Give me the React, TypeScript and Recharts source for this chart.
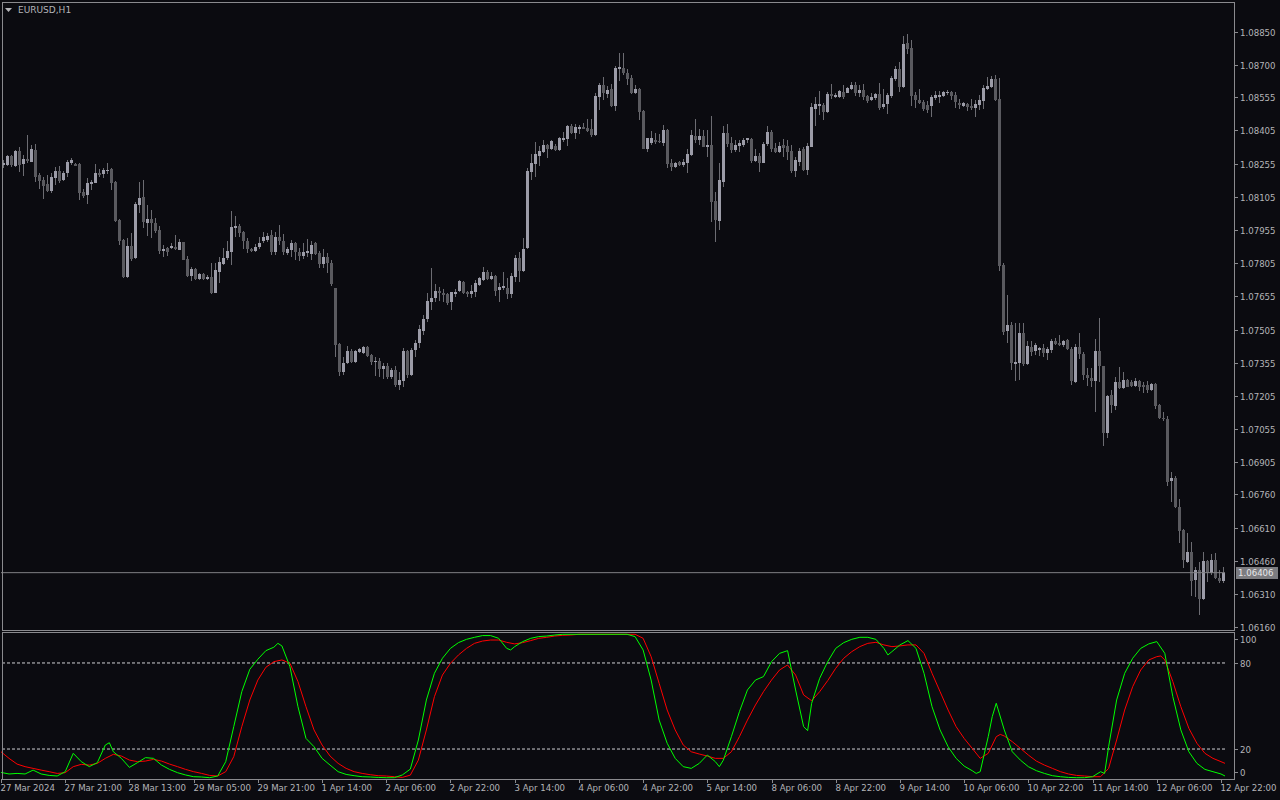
import React from "react";
import { ComposedChart, Bar, Line, XAxis, YAxis, ReferenceLine } from "recharts";

// EURUSD H1 candles, prices in points (1e-5)
const openPts = [
  108247, 108250, 108289, 108244, 108312, 108255, 108276, 108264, 108317, 108205,
  108181, 108163, 108131, 108192, 108222, 108181, 108214, 108258, 108255, 108253,
  108128, 108115, 108164, 108169, 108214, 108207, 108223, 108231, 108173, 108000,
  107910, 107742, 107883, 107827, 108069, 108104, 107988, 108005, 107987, 107955,
  107861, 107874, 107874, 107878, 107866, 107901, 107824, 107748, 107777, 107733,
  107756, 107735, 107744, 107672, 107767, 107803, 107827, 107857, 107964, 107973,
  107946, 107904, 107869, 107862, 107879, 107904, 107910, 107933, 107856, 107922,
  107904, 107853, 107865, 107897, 107857, 107839, 107850, 107847, 107894, 107853,
  107802, 107833, 107808, 107693, 107440, 107313, 107354, 107408, 107360, 107402,
  107398, 107428, 107390, 107360, 107363, 107327, 107341, 107289, 107322, 107255,
  107273, 107408, 107300, 107413, 107446, 107500, 107553, 107631, 107649, 107681,
  107672, 107666, 107628, 107667, 107679, 107720, 107675, 107667, 107676, 107707,
  107731, 107764, 107735, 107749, 107685, 107694, 107694, 107667, 107744, 107829,
  107770, 107875, 108219, 108254, 108291, 108309, 108339, 108323, 108335, 108318,
  108362, 108368, 108424, 108395, 108412, 108421, 108416, 108410, 108385, 108558,
  108611, 108570, 108593, 108516, 108683, 108686, 108666, 108642, 108572, 108592,
  108494, 108322, 108349, 108364, 108357, 108349, 108407, 108260, 108241, 108262,
  108247, 108260, 108294, 108379, 108361, 108379, 108328, 108337, 108086, 107997,
  108173, 108394, 108349, 108316, 108334, 108339, 108361, 108366, 108268, 108289,
  108259, 108343, 108399, 108325, 108309, 108339, 108334, 108313, 108223, 108262,
  108319, 108226, 108331, 108501, 108517, 108520, 108488, 108570, 108556, 108558,
  108579, 108576, 108592, 108610, 108576, 108588, 108561, 108544, 108552, 108570,
  108509, 108524, 108561, 108636, 108683, 108600, 108799, 108776, 108565, 108543,
  108535, 108520, 108515, 108550, 108558, 108561, 108576, 108579, 108565, 108530,
  108515, 108524, 108515, 108505, 108520, 108540, 108591, 108600, 108636, 108547,
  107797, 107500, 107526, 107351, 107353, 107488, 107350, 107428, 107410, 107413,
  107423, 107401, 107413, 107454, 107446, 107436, 107458, 107416, 107270, 107424,
  107395, 107300, 107285, 107273, 107408, 107338, 107039, 107210, 107160, 107270,
  107240, 107277, 107270, 107250, 107274, 107255, 107255, 107232, 107259, 107164,
  107107, 107101, 106822, 106833, 106705, 106599, 106456, 106501, 106373, 106418,
  106287, 106459, 106403, 106464, 106384, 106369,
];

const highPts = [
  108271, 108294, 108292, 108317, 108332, 108294, 108386, 108341, 108344, 108211,
  108196, 108204, 108211, 108241, 108244, 108223, 108270, 108279, 108259, 108256,
  108139, 108188, 108181, 108253, 108232, 108237, 108256, 108234, 108178, 108005,
  107914, 107920, 107940, 108083, 108173, 108181, 108068, 108045, 108008, 107975,
  107886, 107880, 107895, 107931, 107913, 107902, 107837, 107789, 107785, 107762,
  107762, 107750, 107804, 107805, 107835, 107872, 107903, 108041, 108019, 107982,
  107951, 107921, 107872, 107891, 107922, 107945, 107940, 107955, 107948, 107978,
  107937, 107880, 107910, 107900, 107872, 107895, 107913, 107907, 107901, 107860,
  107868, 107853, 107820, 107693, 107443, 107383, 107431, 107416, 107413, 107422,
  107431, 107431, 107395, 107380, 107375, 107353, 107353, 107330, 107341, 107315,
  107420, 107413, 107420, 107458, 107526, 107570, 107672, 107782, 107711, 107699,
  107687, 107672, 107676, 107687, 107728, 107725, 107681, 107707, 107729, 107744,
  107786, 107774, 107764, 107752, 107714, 107767, 107740, 107759, 107842, 107857,
  107921, 108234, 108299, 108352, 108335, 108362, 108342, 108362, 108342, 108374,
  108397, 108430, 108434, 108434, 108428, 108437, 108456, 108456, 108573, 108621,
  108645, 108606, 108615, 108697, 108754, 108754, 108681, 108655, 108610, 108595,
  108497, 108373, 108404, 108395, 108388, 108429, 108411, 108274, 108263, 108268,
  108277, 108319, 108407, 108455, 108411, 108407, 108407, 108470, 108128, 108259,
  108425, 108434, 108376, 108364, 108364, 108369, 108372, 108369, 108319, 108301,
  108354, 108425, 108407, 108346, 108354, 108366, 108364, 108339, 108286, 108324,
  108328, 108346, 108527, 108554, 108583, 108527, 108580, 108615, 108573, 108586,
  108610, 108603, 108625, 108625, 108610, 108615, 108565, 108573, 108576, 108621,
  108591, 108576, 108651, 108696, 108716, 108832, 108841, 108814, 108580, 108591,
  108543, 108540, 108565, 108583, 108583, 108583, 108588, 108582, 108580, 108546,
  108535, 108527, 108546, 108543, 108565, 108610, 108645, 108651, 108656, 108640,
  107807, 107661, 107537, 107534, 107534, 107534, 107451, 107451, 107446, 107428,
  107439, 107428, 107461, 107466, 107481, 107458, 107461, 107428, 107440, 107491,
  107405, 107330, 107330, 107461, 107556, 107341, 107210, 107232, 107292, 107335,
  107315, 107282, 107277, 107285, 107277, 107270, 107274, 107265, 107262, 107169,
  107133, 107115, 106863, 106843, 106738, 106602, 106584, 106546, 106433, 106456,
  106498, 106464, 106491, 106494, 106418, 106433,
];

const lowPts = [
  108234, 108246, 108241, 108241, 108219, 108201, 108256, 108261, 108172, 108140,
  108097, 108125, 108124, 108158, 108169, 108176, 108196, 108250, 108244, 108091,
  108101, 108071, 108136, 108166, 108195, 108192, 108210, 108137, 107991, 107887,
  107738, 107739, 107816, 107824, 108030, 107962, 107928, 107917, 107940, 107846,
  107834, 107837, 107868, 107865, 107863, 107819, 107744, 107726, 107729, 107730,
  107730, 107730, 107666, 107668, 107714, 107797, 107820, 107797, 107925, 107925,
  107871, 107853, 107857, 107857, 107871, 107894, 107900, 107842, 107842, 107888,
  107842, 107842, 107835, 107820, 107817, 107823, 107835, 107820, 107842, 107785,
  107785, 107762, 107702, 107383, 107295, 107300, 107350, 107353, 107356, 107398,
  107393, 107383, 107345, 107295, 107292, 107282, 107282, 107282, 107247, 107232,
  107247, 107285, 107295, 107380, 107420, 107480, 107540, 107593, 107631, 107636,
  107631, 107616, 107594, 107651, 107676, 107666, 107654, 107646, 107651, 107702,
  107726, 107729, 107729, 107657, 107631, 107684, 107642, 107646, 107719, 107719,
  107767, 107870, 108181, 108193, 108246, 108302, 108282, 108317, 108312, 108314,
  108352, 108336, 108389, 108367, 108389, 108410, 108400, 108377, 108380, 108498,
  108543, 108550, 108510, 108495, 108630, 108655, 108610, 108568, 108569, 108452,
  108319, 108307, 108339, 108343, 108346, 108334, 108233, 108223, 108233, 108244,
  108241, 108214, 108289, 108349, 108337, 108328, 108286, 107989, 107902, 107954,
  108150, 108328, 108304, 108306, 108309, 108328, 108349, 108259, 108263, 108218,
  108256, 108334, 108309, 108301, 108304, 108286, 108271, 108211, 108196, 108244,
  108223, 108203, 108328, 108425, 108474, 108452, 108482, 108546, 108550, 108553,
  108547, 108573, 108588, 108562, 108558, 108543, 108527, 108540, 108543, 108497,
  108500, 108479, 108550, 108630, 108580, 108595, 108750, 108515, 108505, 108524,
  108494, 108485, 108464, 108543, 108530, 108558, 108565, 108543, 108505, 108500,
  108509, 108494, 108497, 108467, 108497, 108503, 108588, 108595, 108540, 107771,
  107480, 107445, 107323, 107274, 107277, 107341, 107345, 107386, 107390, 107386,
  107383, 107368, 107398, 107436, 107431, 107428, 107413, 107255, 107262, 107371,
  107277, 107250, 107244, 107134, 107270, 106980, 107014, 107127, 107142, 107235,
  107238, 107244, 107247, 107244, 107229, 107217, 107220, 107225, 107145, 107100,
  107093, 106798, 106727, 106697, 106542, 106429, 106448, 106301, 106298, 106215,
  106283, 106366, 106396, 106376, 106361, 106361,
];

const closePts = [
  108256, 108289, 108247, 108314, 108250, 108276, 108265, 108321, 108196, 108178,
  108155, 108131, 108193, 108222, 108178, 108214, 108262, 108271, 108246, 108124,
  108110, 108169, 108173, 108214, 108204, 108226, 108226, 108169, 107996, 107907,
  107744, 107883, 107824, 108074, 108100, 107993, 108005, 107985, 107952, 107861,
  107870, 107857, 107881, 107868, 107901, 107821, 107748, 107777, 107733, 107756,
  107735, 107744, 107669, 107772, 107811, 107829, 107860, 107967, 107973, 107943,
  107904, 107868, 107860, 107879, 107898, 107924, 107930, 107857, 107925, 107904,
  107856, 107869, 107897, 107857, 107838, 107854, 107860, 107888, 107847, 107802,
  107833, 107808, 107711, 107435, 107315, 107354, 107408, 107360, 107408, 107417,
  107428, 107387, 107357, 107363, 107328, 107341, 107289, 107322, 107255, 107276,
  107408, 107300, 107413, 107446, 107508, 107553, 107635, 107649, 107679, 107672,
  107661, 107624, 107673, 107676, 107725, 107670, 107664, 107681, 107714, 107737,
  107765, 107735, 107747, 107681, 107698, 107702, 107666, 107747, 107829, 107771,
  107869, 108222, 108258, 108299, 108312, 108339, 108321, 108358, 108317, 108371,
  108371, 108424, 108394, 108419, 108421, 108412, 108404, 108385, 108561, 108611,
  108576, 108588, 108516, 108686, 108692, 108666, 108637, 108572, 108592, 108489,
  108322, 108369, 108369, 108352, 108354, 108407, 108253, 108241, 108259, 108250,
  108262, 108298, 108384, 108361, 108379, 108331, 108337, 108083, 108000, 108180,
  108394, 108343, 108316, 108339, 108349, 108361, 108369, 108268, 108289, 108259,
  108343, 108399, 108319, 108307, 108336, 108324, 108307, 108223, 108271, 108312,
  108226, 108334, 108510, 108524, 108526, 108489, 108570, 108562, 108565, 108583,
  108558, 108595, 108610, 108576, 108588, 108558, 108540, 108556, 108570, 108506,
  108524, 108564, 108640, 108683, 108600, 108796, 108773, 108562, 108543, 108530,
  108502, 108497, 108555, 108565, 108565, 108579, 108579, 108562, 108535, 108520,
  108530, 108512, 108505, 108524, 108543, 108595, 108606, 108636, 108543, 107792,
  107495, 107525, 107356, 107360, 107488, 107350, 107431, 107405, 107436, 107423,
  107401, 107416, 107454, 107439, 107436, 107454, 107416, 107274, 107424, 107395,
  107300, 107285, 107273, 107408, 107338, 107039, 107205, 107164, 107270, 107240,
  107277, 107247, 107250, 107274, 107247, 107244, 107232, 107259, 107160, 107104,
  107101, 106818, 106833, 106702, 106596, 106461, 106501, 106370, 106418, 106287,
  106459, 106406, 106464, 106381, 106369, 106403,
];

// Stochastic %K (green) and %D (red): [bar index, value]
const stochMain: [number, number][] = [
  [0, 3.7], [2, 2.6], [4, 3], [6, 2.6], [8, 5.3], [10, 2.6], [12, 1.6], [14, 1.2], [16, 4.2], [18, 17],
  [20, 11.2], [22, 7.7], [24, 10.5], [26, 22.8], [27, 24.4], [28, 18.1], [30, 13.5], [32, 7.2], [34, 10.5], [36, 14],
  [38, 13.5], [40, 8.8], [42, 5.8], [44, 3.5], [46, 1.9], [48, 0.7], [50, 0.5], [52, 0], [54, 1.2], [56, 11.2],
  [58, 35.6], [60, 60], [62, 75.6], [64, 82.6], [66, 88.6], [68, 91], [69, 93.7], [70, 91.9], [72, 77.4], [74, 49.5],
  [76, 27.4], [78, 21.6], [80, 13.5], [82, 8.8], [84, 4.2], [86, 2.3], [88, 1.4], [90, 0.7], [92, 0.5], [94, 0.2],
  [96, 0], [98, 0], [100, 1.9], [102, 6], [104, 26.3], [106, 54.2], [108, 72.8], [110, 83.3], [112, 90.2], [114, 94.2],
  [116, 96.5], [118, 97.9], [120, 99.1], [122, 99.1], [124, 97.2], [126, 90.2], [127, 89.1], [128, 91.4], [130, 94.9], [132, 97.2],
  [134, 98.4], [136, 98.8], [138, 99.5], [140, 100], [156, 100], [158, 98.4], [160, 89.1], [162, 68.1], [164, 40.2], [166, 24],
  [168, 13.5], [170, 7.7], [172, 6.5], [174, 10], [176, 15.8], [178, 11.2], [179, 7.7], [180, 12.3], [182, 28.6], [184, 46],
  [186, 61.2], [188, 68.1], [190, 70.5], [192, 80.9], [194, 86.7], [196, 88.6], [198, 61.2], [200, 35.6], [201, 32.8], [202, 51.9],
  [204, 69.3], [206, 80.9], [208, 90.2], [210, 94.2], [212, 96.5], [214, 97.9], [216, 97.9], [218, 96.5], [220, 90.2], [221, 85.6],
  [222, 87.9], [224, 92.6], [226, 95.6], [228, 90.2], [230, 72.8], [232, 49.5], [234, 33.3], [236, 21.6], [238, 13.5], [240, 8.1],
  [242, 4.9], [243, 3], [244, 4.2], [246, 28.6], [247, 42.6], [248, 51.9], [250, 33.3], [252, 18.1], [254, 12.3], [256, 7.7],
  [258, 4.9], [260, 3], [262, 1.4], [264, 0.7], [266, 0.2], [268, 0], [270, 0], [272, 0.7], [274, 4.2], [275, 3],
  [276, 21.6], [278, 54.2], [280, 72.8], [282, 83.3], [284, 90.2], [286, 93.3], [288, 94.9], [290, 86.7], [292, 56.5], [294, 33.3],
  [296, 18.1], [298, 10], [300, 5.8], [302, 4.2], [304, 2.6], [305, 1.2],
];

const stochSignal: [number, number][] = [
  [0, 18.1], [2, 13.5], [4, 9.5], [6, 7.7], [8, 6.5], [10, 5.3], [12, 4.2], [14, 3], [16, 3.5], [18, 7.7],
  [20, 9.3], [22, 8.8], [24, 10], [26, 13.5], [28, 16.3], [30, 15.1], [32, 12.3], [34, 11.2], [36, 11.6], [38, 12.8],
  [40, 11.6], [42, 9.5], [44, 7.7], [46, 5.8], [48, 4.2], [50, 3], [52, 1.6], [54, 1.2], [56, 4.2], [58, 14.7],
  [60, 35.6], [62, 54.2], [64, 68.1], [66, 77], [68, 80.9], [70, 82.1], [72, 79.8], [74, 67], [76, 49.5], [78, 33.3],
  [80, 22.8], [82, 15.1], [84, 10], [86, 6.5], [88, 4.2], [90, 3], [92, 2.1], [94, 1.4], [96, 1.2], [98, 0.7],
  [100, 0.2], [102, 1.8], [104, 12.3], [106, 33.3], [108, 56.5], [110, 71.6], [112, 79.8], [114, 85.6], [116, 90.2], [118, 93.7],
  [120, 95.3], [122, 96], [124, 96], [126, 94.4], [128, 93.3], [130, 94.2], [132, 95.6], [134, 97.2], [136, 97.9], [138, 98.8],
  [140, 99.3], [142, 99.5], [144, 100], [158, 100], [160, 97.2], [162, 84.4], [164, 65.8], [166, 47.2], [168, 33.3], [170, 22.8],
  [172, 18.1], [174, 16.5], [176, 15.1], [178, 13.5], [180, 13.5], [182, 18.1], [184, 28.6], [186, 40.2], [188, 50.7], [190, 60],
  [192, 68.1], [194, 75.1], [196, 78.6], [198, 71.6], [200, 57.7], [202, 53.7], [204, 60], [206, 67.7], [208, 76.3], [210, 83.3],
  [212, 87.9], [214, 91.4], [216, 93.7], [218, 94.4], [220, 92.6], [222, 91.4], [224, 91.9], [226, 92.6], [228, 92.6], [230, 86.7],
  [232, 72.8], [234, 60], [236, 47.2], [238, 35.6], [240, 27.4], [242, 20.5], [244, 13.5], [246, 17], [248, 28.6], [249, 30.2],
  [250, 29.1], [252, 25.1], [254, 20.5], [256, 15.8], [258, 11.6], [260, 8.8], [262, 6.5], [264, 4.2], [266, 2.6], [268, 1.6],
  [270, 1.2], [272, 0.7], [274, 0.7], [276, 6.5], [278, 26.3], [280, 47.2], [282, 63.5], [284, 75.1], [286, 82.1], [288, 84.4],
  [289, 84.9], [290, 82.1], [292, 67], [294, 49.5], [296, 34.4], [298, 24], [300, 17], [302, 13.5], [304, 11.2], [305, 10],
];

const priceTicks = [
  1.0885, 1.087, 1.08555, 1.08405, 1.08255, 1.08105, 1.07955, 1.07805, 1.07655, 1.07505,
  1.07355, 1.07205, 1.07055, 1.06905, 1.0676, 1.0661, 1.0646, 1.0631, 1.0616,
];
const stochTicks = [100, 80, 20, 0];
const stochLevels = [80, 20];
const lastPrice = 1.06406;

const timeBars = [0, 16, 32, 48, 64, 80, 96, 112, 128, 144, 160, 176, 192, 208, 224, 240, 256, 272, 288, 304];
const timeLabels = [
  "27 Mar 2024", "27 Mar 21:00", "28 Mar 13:00", "29 Mar 05:00", "29 Mar 21:00",
  "1 Apr 14:00", "2 Apr 06:00", "2 Apr 22:00", "3 Apr 14:00", "4 Apr 06:00",
  "4 Apr 22:00", "5 Apr 14:00", "8 Apr 06:00", "8 Apr 22:00", "9 Apr 14:00",
  "10 Apr 06:00", "10 Apr 22:00", "11 Apr 14:00", "12 Apr 06:00", "12 Apr 22:00",
];

const BG = "#0b0b10";
const FRAME = "#8a8a8e";
const TEXT = "#b4b4b8";
const BULL = "#9c9ca8";
const BEAR = "#5a5a5f";
const WICK = "#6c6c72";
const FONT = "DejaVu Sans";
const FS = 8.6;

const rows = closePts.map((c, i) => ({
  i,
  o: openPts[i] / 1e5,
  h: highPts[i] / 1e5,
  l: lowPts[i] / 1e5,
  c: c / 1e5,
  k: undefined as number | undefined,
  d: undefined as number | undefined,
}));
stochMain.forEach(([i, v]) => (rows[i].k = v));
stochSignal.forEach(([i, v]) => (rows[i].d = v));

// candle drawn inside the low..high range bar
const Candle = (props: any) => {
  const { x, y, width, height, payload } = props;
  if (!payload) return null;
  const { o, h, l, c } = payload;
  const top = Math.min(y, y + height);
  const span = Math.abs(height);
  const k = h > l ? span / (h - l) : 0;
  const py = (v: number) => top + (h - v) * k;
  const cx = Math.round(x + width / 2);
  const up = c >= o;
  const bTop = py(Math.max(o, c));
  const bBot = py(Math.min(o, c));
  return (
    <g shapeRendering="crispEdges">
      <line x1={cx + 0.5} x2={cx + 0.5} y1={top} y2={top + span} stroke={WICK} strokeWidth={1} />
      <rect x={cx - 1} y={bTop} width={3} height={Math.max(1, bBot - bTop)} fill={up ? BULL : BEAR} />
    </g>
  );
};

const PriceTick = (props: any) => {
  const { y, payload } = props;
  const yy = Math.round(y) + 0.5;
  return (
    <g>
      <line x1={1234} x2={1238} y1={yy} y2={yy} stroke={FRAME} shapeRendering="crispEdges" />
      <text x={1240} y={yy} dominantBaseline="central" fill={TEXT} fontSize={FS} fontFamily={FONT}>
        {payload.value.toFixed(5)}
      </text>
    </g>
  );
};

const StochTick = (props: any) => {
  const { y, payload } = props;
  const shift = payload.value === 100 ? 5 : payload.value === 0 ? -5.5 : 0;
  const yy = Math.round(y + shift) + 0.5;
  return (
    <g>
      <line x1={1234} x2={1238} y1={yy} y2={yy} stroke={FRAME} shapeRendering="crispEdges" />
      <text x={1240} y={yy} dominantBaseline="central" fill={TEXT} fontSize={FS} fontFamily={FONT}>
        {payload.value}
      </text>
    </g>
  );
};

const TimeTick = (props: any) => {
  const { x, payload } = props;
  const idx = timeBars.indexOf(payload.value);
  const xx = Math.round(x) + 0.5;
  return (
    <g>
      <line x1={xx} x2={xx} y1={149} y2={153} stroke={FRAME} shapeRendering="crispEdges" />
      <text x={xx - 1} y={158} dominantBaseline="central" fill={TEXT} fontSize={FS} fontFamily={FONT}>
        {idx >= 0 ? timeLabels[idx] : ""}
      </text>
    </g>
  );
};

const PriceTag = (props: any) => {
  const vb = props.viewBox || {};
  const yy = Math.round(vb.y ?? 0);
  return (
    <g>
      <rect x={1236} y={yy - 6} width={42} height={12} fill="#7c7c80" />
      <text x={1238} y={yy} dominantBaseline="central" fill="#e8e8ea" fontSize={FS} fontFamily={FONT}>
        {lastPrice.toFixed(5)}
      </text>
    </g>
  );
};

export default function App() {
  return (
    <div
      style={{
        position: "absolute",
        left: 0,
        top: 0,
        width: 1280,
        height: 800,
        background: BG,
        overflow: "hidden",
        fontFamily: FONT,
      }}
    >
      <div style={{ position: "absolute", left: 0, top: 0 }}>
        <ComposedChart
          width={1280}
          height={632}
          data={rows}
          margin={{ top: 2, right: 0, left: 1, bottom: 2 }}
          barCategoryGap={0}
          barGap={0}
        >
          <XAxis dataKey="i" hide />
          <YAxis
            orientation="right"
            width={55}
            type="number"
            domain={[1.061468, 1.089856]}
            allowDataOverflow
            ticks={priceTicks}
            interval={0}
            axisLine={false}
            tickLine={false}
            tick={<PriceTick />}
          />
          <ReferenceLine y={lastPrice} stroke="#808084" strokeWidth={1} label={<PriceTag />} ifOverflow="visible" />
          <Bar dataKey={(d: any) => [d.l, d.h]} shape={<Candle />} isAnimationActive={false} />
        </ComposedChart>
      </div>

      <div style={{ position: "absolute", left: 0, top: 630 }}>
        <ComposedChart
          width={1280}
          height={170}
          data={rows}
          margin={{ top: 2, right: 0, left: 1, bottom: 0 }}
        >
          <XAxis
            dataKey="i"
            height={21}
            ticks={timeBars}
            interval={0}
            axisLine={false}
            tickLine={false}
            tick={<TimeTick />}
          />
          <YAxis
            orientation="right"
            width={55}
            type="number"
            domain={[-0.9, 101.6]}
            allowDataOverflow
            ticks={stochTicks}
            interval={0}
            axisLine={false}
            tickLine={false}
            tick={<StochTick />}
          />
          {stochLevels.map((lv) => (
            <ReferenceLine key={lv} y={lv} stroke="#d0d0d4" strokeDasharray="3 2" strokeWidth={1} />
          ))}
          <Line dataKey="d" stroke="#ff0000" strokeWidth={1} dot={false} connectNulls isAnimationActive={false} />
          <Line dataKey="k" stroke="#00ff00" strokeWidth={1} dot={false} connectNulls isAnimationActive={false} />
        </ComposedChart>
      </div>

      {/* panel frames */}
      <div
        style={{
          position: "absolute",
          left: 2,
          top: 2,
          width: 1233,
          height: 629,
          border: `1px solid ${FRAME}`,
          boxSizing: "border-box",
          pointerEvents: "none",
        }}
      />
      <div
        style={{
          position: "absolute",
          left: 2,
          top: 632,
          width: 1233,
          height: 148,
          border: `1px solid ${FRAME}`,
          boxSizing: "border-box",
          pointerEvents: "none",
        }}
      />

      <div
        style={{
          position: "absolute",
          left: 18,
          top: 4,
          fontSize: 9,
          color: TEXT,
          fontFamily: FONT,
          lineHeight: "12px",
        }}
      >
        EURUSD,H1
      </div>
      <svg style={{ position: "absolute", left: 5, top: 8 }} width={8} height={5}>
        <polygon points="0,0 7,0 3.5,4" fill={TEXT} />
      </svg>
    </div>
  );
}
